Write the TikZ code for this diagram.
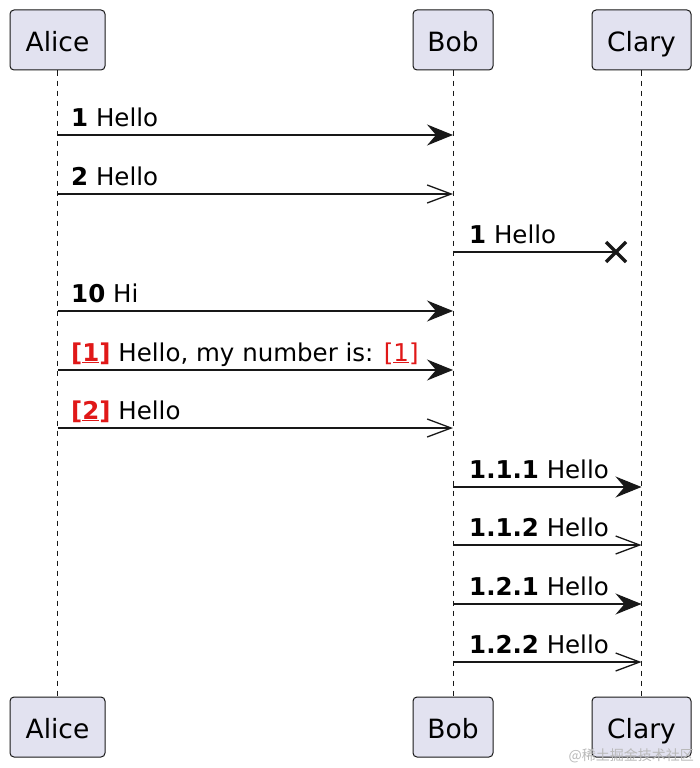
\documentclass[tikz,border=0pt]{standalone}
\usepackage{fontspec}
\setmainfont{DejaVu Sans}
\newfontfamily\cjk{Noto Sans CJK SC}
\usetikzlibrary{arrows.meta,calc}
\definecolor{partfill}{HTML}{E2E2F0}
\definecolor{ink}{HTML}{181818}
\definecolor{numred}{HTML}{E01818}
\newcommand{\rednum}[1]{\textcolor{numred}{\textbf{[\underline{#1}]}}}
\newcommand{\redlink}[1]{\textcolor{numred}{[\underline{#1}]}}
\begin{document}
\begin{tikzpicture}[x=1pt,y=-1pt,
 part/.style={draw=ink, fill=partfill, rounded corners=4pt, line width=1pt,
   minimum height=60pt, inner sep=0pt, text height=23pt, text depth=0pt,
   font=\fontsize{26.5}{31}\selectfont},
 life/.style={draw=ink, line width=0.8pt, dash pattern=on 5pt off 5pt},
 msg/.style={draw=ink, line width=1.3pt},
 full/.style={msg, -{Stealth[length=26pt,width=21pt,inset=9pt]}},
 openarr/.style={msg, -{Straight Barb[length=24pt,width=18pt,line width=1.3pt]}},
 lbl/.style={anchor=base west, inner sep=0pt, font=\fontsize{24.5}{29}\selectfont},
]
\useasboundingbox (0,0) rectangle (700,768);
% participants
\node[part, minimum width=95pt] (aliceT) at (57.5,40) {Alice};
\node[part, minimum width=80pt] (bobT) at (453,40) {Bob};
\node[part, minimum width=99pt] (claryT) at (641.5,40) {Clary};
\node[part, minimum width=95pt] (aliceB) at (57.5,727) {Alice};
\node[part, minimum width=80pt] (bobB) at (453,727) {Bob};
\node[part, minimum width=99pt] (claryB) at (641.5,727) {Clary};
% lifelines
\draw[life] (aliceT.south) -- (aliceB.north);
\draw[life] (bobT.south) -- (bobB.north);
\draw[life] (claryT.south) -- (claryB.north);
% message 1
\draw[full] (aliceT |- 0,135) coordinate (m1a) -- (bobT |- 0,135) coordinate (m1b);
\node[lbl] (l1) at (71,126) {\textbf{1} Hello};
% message 2
\draw[openarr] (aliceT |- 0,194) coordinate (m2a) -- (bobT |- 0,194) coordinate (m2b);
\node[lbl] (l2) at (71,185) {\textbf{2} Hello};
% message 3 (lost)
\coordinate (xc) at (616,252);
\draw[msg] (bobT |- 0,252) coordinate (m3a) -- (xc);
\draw[draw=ink, line width=3.4pt] ($(xc)+(-10,-10)$) -- ($(xc)+(10,10)$);
\draw[draw=ink, line width=3.4pt] ($(xc)+(-10,10)$) -- ($(xc)+(10,-10)$);
\node[lbl] (l3) at (469,243) {\textbf{1} Hello};
% message 4
\draw[full] (aliceT |- 0,311) coordinate (m4a) -- (bobT |- 0,311) coordinate (m4b);
\node[lbl] (l4) at (71,302) {\textbf{10} Hi};
% message 5
\draw[full] (aliceT |- 0,370) coordinate (m5a) -- (bobT |- 0,370) coordinate (m5b);
\node[lbl] (l5) at (71,361) {\rednum{1} Hello, my number is: \redlink{1}};
% message 6
\draw[openarr] (aliceT |- 0,428) coordinate (m6a) -- (bobT |- 0,428) coordinate (m6b);
\node[lbl] (l6) at (71,419) {\rednum{2} Hello};
% message 7-10
\draw[full] (bobT |- 0,487) coordinate (m7a) -- (claryT |- 0,487) coordinate (m7b);
\node[lbl] (l7) at (469,478) {\textbf{1.1.1} Hello};
\draw[openarr] (bobT |- 0,545) coordinate (m8a) -- (claryT |- 0,545) coordinate (m8b);
\node[lbl] (l8) at (469,536) {\textbf{1.1.2} Hello};
\draw[full] (bobT |- 0,604) coordinate (m9a) -- (claryT |- 0,604) coordinate (m9b);
\node[lbl] (l9) at (469,595) {\textbf{1.2.1} Hello};
\draw[openarr] (bobT |- 0,662) coordinate (m10a) -- (claryT |- 0,662) coordinate (m10b);
\node[lbl] (l10) at (469,653) {\textbf{1.2.2} Hello};
% watermark
\node[anchor=base east, inner sep=0pt, text=gray!55, font=\cjk\fontsize{14}{16}\selectfont] (wm) at (694,760) {@稀土掘金技术社区};
\end{tikzpicture}
\end{document}
